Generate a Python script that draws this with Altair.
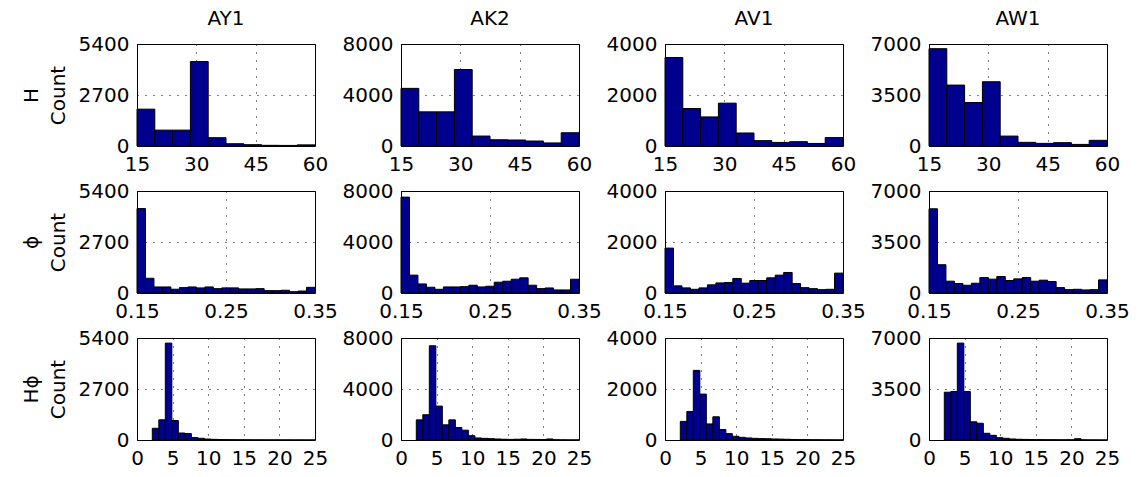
import altair as alt
import numpy as np
import pandas as pd

FONT = "DejaVu Sans"
BAR_FILL = "#00008F"

COLUMNS = ["AY1", "AK2", "AV1", "AW1"]
Y_MAX = [5400, 8000, 4000, 7000]

# H: 10 equal bins over [15, 60]
H_RANGE = [15, 60]
H_TICKS = [15, 30, 45, 60]
H_COUNTS = [
    [1950, 840, 840, 4470, 440, 120, 70, 35, 30, 60],
    [4520, 2680, 2680, 6000, 780, 490, 470, 390, 240, 1040],
    [3470, 1470, 1140, 1680, 510, 210, 140, 170, 100, 330],
    [6680, 4180, 2980, 4410, 680, 250, 180, 230, 110, 390],
]

# phi: 21 equal bins over [0.15, 0.35]
PHI_RANGE = [0.15, 0.35]
PHI_TICKS = [0.15, 0.25, 0.35]
PHI_COUNTS = [
    [4470, 780, 320, 320, 200, 285, 320, 270, 320, 230, 270, 270, 215, 215, 230, 125, 125, 145, 70, 105, 300],
    [7520, 1400, 710, 450, 290, 475, 475, 500, 610, 475, 530, 845, 925, 1080, 1190, 610, 345, 395, 240, 240, 1080],
    [1760, 280, 200, 145, 200, 320, 395, 410, 570, 385, 490, 490, 595, 700, 805, 370, 210, 170, 130, 145, 780],
    [5780, 1940, 810, 650, 530, 670, 1060, 950, 1130, 855, 970, 1060, 810, 880, 785, 370, 230, 255, 210, 230, 900],
]

# H*phi: 25 equal bins over [2.15, 25], axis shown over [0, 25]
HPHI_BINS = [2.15, 25]
HPHI_RANGE = [0, 25]
HPHI_TICKS = [0, 5, 10, 15, 20, 25]
HPHI_COUNTS = [
    [620, 1070, 5130, 1030, 370, 340, 130, 90, 50, 35, 25, 20, 15, 12, 10, 8, 8, 6, 5, 5, 4, 3, 3, 2, 2],
    [1580, 1980, 7390, 2660, 1190, 1580, 980, 770, 340, 160, 130, 105, 80, 60, 50, 60, 80, 50, 45, 40, 80, 20, 10, 5, 5],
    [730, 1120, 2730, 1800, 630, 910, 410, 250, 145, 105, 80, 65, 55, 50, 40, 35, 28, 20, 15, 15, 10, 8, 6, 4, 3],
    [3280, 3330, 6650, 3330, 1250, 1150, 460, 320, 160, 115, 70, 50, 40, 30, 25, 20, 20, 15, 12, 15, 90, 10, 5, 3, 2],
]

ROWS = [
    {"label": ["H", "Count"], "bins": H_RANGE, "domain": H_RANGE, "ticks": H_TICKS, "fmt": "d", "counts": H_COUNTS},
    {"label": ["\u03d5", "Count"], "bins": PHI_RANGE, "domain": PHI_RANGE, "ticks": PHI_TICKS, "fmt": ".2f", "counts": PHI_COUNTS},
    {"label": ["H\u03d5", "Count"], "bins": HPHI_BINS, "domain": HPHI_RANGE, "ticks": HPHI_TICKS, "fmt": "d", "counts": HPHI_COUNTS},
]

PANEL_W = 178
PANEL_H = 102


def histogram_panel(row_idx, col_idx):
    spec = ROWS[row_idx]
    counts = spec["counts"][col_idx]
    edges = np.linspace(spec["bins"][0], spec["bins"][1], len(counts) + 1)
    df = pd.DataFrame({"lo": edges[:-1], "hi": edges[1:], "n": counts})
    ymax = Y_MAX[col_idx]

    y_axis = alt.Axis(
        values=[0, ymax // 2, ymax],
        format="d",
        title=spec["label"] if col_idx == 0 else None,
    )
    chart = (
        alt.Chart(df)
        .mark_rect(fill=BAR_FILL, stroke="black", strokeWidth=1, opacity=1)
        .encode(
            x=alt.X(
                "lo:Q",
                scale=alt.Scale(domain=spec["domain"], nice=False, zero=False),
                axis=alt.Axis(values=spec["ticks"], format=spec["fmt"], title=None),
            ),
            x2="hi:Q",
            y=alt.Y(
                "n:Q",
                scale=alt.Scale(domain=[0, ymax], nice=False),
                axis=y_axis,
            ),
            y2=alt.datum(0),
        )
        .properties(width=PANEL_W, height=PANEL_H)
    )
    if row_idx == 0:
        chart = chart.properties(
            title=alt.TitleParams(
                text=COLUMNS[col_idx], fontSize=20, font=FONT,
                fontWeight="normal", color="black", offset=5,
            )
        )
    return chart


panels = [histogram_panel(r, c) for r in range(3) for c in range(4)]

chart = (
    alt.concat(*panels, columns=4, spacing={"row": 45, "column": 86}, bounds="flush")
    .properties(padding={"left": 20, "top": 8, "right": 5, "bottom": 5}, background="white")
    .configure_view(stroke="black", strokeWidth=1)
    .configure_axis(
        labelFont=FONT,
        labelFontSize=20,
        labelColor="black",
        labelPadding=8,
        labelFlush=False,
        labelOverlap=False,
        labelBound=False,
        titleFont=FONT,
        titleFontSize=20,
        titleFontWeight="normal",
        titleColor="black",
        titlePadding=10,
        titleLineHeight=27,
        domain=False,
        ticks=False,
        tickSize=0,
        grid=True,
        gridColor="black",
        gridDash=[1, 7],
        gridOpacity=1,
        gridWidth=1,
    )
)

chart.save("out.html", embed_options={"renderer": "svg", "actions": False})
